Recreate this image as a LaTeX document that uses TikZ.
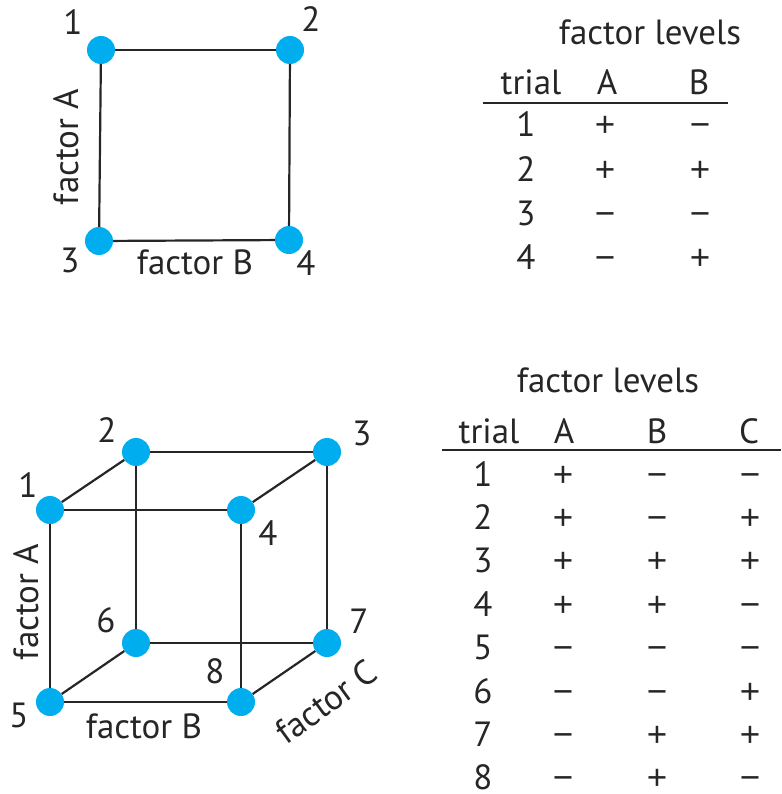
\documentclass[tikz,border=0pt]{standalone}
\usepackage{fontspec}
\setmainfont{PT Sans}
\newfontfamily\signfont{Liberation Sans}
\newcommand{\pl}{{\signfont\fontsize{35}{42}\selectfont +}}
\newcommand{\mi}{{\signfont\fontsize{35}{42}\selectfont −}}
\begin{document}
\begin{tikzpicture}[x=1pt,y=-1pt,
  dot/.style={circle,fill={rgb,255:red,0;green,174;blue,239},minimum size=28pt,inner sep=0pt},
  edge/.style={line width=2.2pt,black!85},
  lbl/.style={anchor=base,inner sep=0pt,font=\fontsize{35}{42}\selectfont,text=black!85},
  rule/.style={line width=2.2pt,black!85}]
\useasboundingbox (0,0) rectangle (781,794);
% ---- square ----
\node[dot] (s1) at (101,50) {};
\node[dot] (s2) at (290,50) {};
\node[dot] (s3) at (99,241) {};
\node[dot] (s4) at (289,240) {};
\draw[edge] (s1) -- (s2);
\draw[edge] (s1) -- (s3);
\draw[edge] (s2) -- (s4);
\draw[edge] (s3) -- (s4);
\node[lbl] (l1) at (73,35) {1};
\node[lbl] (l2) at (311,32) {2};
\node[lbl] (l3) at (70,272) {3};
\node[lbl] (l4) at (306,275) {4};
\node[lbl] (fB1) at (195,274) {factor B};
\node[lbl,rotate=90] (fA1) at (78,147) {factor A};
% ---- table 1 ----
\node[lbl] (t1title) at (650,45) {factor levels};
\node[lbl] (t1h0) at (531,95) {trial};
\node[lbl] (t1hA) at (607,95) {A};
\node[lbl] (t1hB) at (699,95) {B};
\coordinate (t1r0) at (483,103);
\coordinate (t1r1) at (728,103);
\draw[rule] (t1r0) -- (t1r1);
\foreach \i/\a/\b [count=\k] in {1/\pl/\mi,2/\pl/\pl,3/\mi/\mi,4/\mi/\pl}{
  \pgfmathsetmacro\yy{137+(\k-1)*44.3}
  \node[lbl] (t1n\k) at (526,\yy) {\i};
  \node[lbl] (t1a\k) at (605,\yy) {\a};
  \node[lbl] (t1b\k) at (700,\yy) {\b};
}
% ---- cube ----
\node[dot] (c1) at (50,510) {};
\node[dot] (c2) at (136,452) {};
\node[dot] (c3) at (327,452) {};
\node[dot] (c4) at (241,510) {};
\node[dot] (c5) at (50,702) {};
\node[dot] (c6) at (136,643) {};
\node[dot] (c7) at (327,643) {};
\node[dot] (c8) at (241,702) {};
\draw[edge] (c1) -- (c2);
\draw[edge] (c2) -- (c3);
\draw[edge] (c1) -- (c4);
\draw[edge] (c3) -- (c4);
\draw[edge] (c1) -- (c5);
\draw[edge] (c2) -- (c6);
\draw[edge] (c3) -- (c7);
\draw[edge] (c4) -- (c8);
\draw[edge] (c5) -- (c6);
\draw[edge] (c6) -- (c7);
\draw[edge] (c5) -- (c8);
\draw[edge] (c8) -- (c7);
\node[lbl] (m1) at (28,497) {1};
\node[lbl] (m2) at (107,442) {2};
\node[lbl] (m3) at (362,445) {3};
\node[lbl] (m4) at (268,545) {4};
\node[lbl] (m5) at (19,727) {5};
\node[lbl] (m6) at (106,632) {6};
\node[lbl] (m7) at (359,633) {7};
\node[lbl] (m8) at (215,683) {8};
\node[lbl] (fB2) at (144,738) {factor B};
\node[lbl,rotate=90] (fA2) at (38,602) {factor A};
\node[lbl,anchor=center,rotate=36] (fC2) at (326,702) {factor C};
% ---- table 2 ----
\node[lbl] (t2title) at (608,392) {factor levels};
\node[lbl] (t2h0) at (489,443) {trial};
\node[lbl] (t2hA) at (564,443) {A};
\node[lbl] (t2hB) at (657,443) {B};
\node[lbl] (t2hC) at (749,443) {C};
\coordinate (t2r0) at (442,450);
\coordinate (t2r1) at (781,450);
\draw[rule] (t2r0) -- (t2r1);
\foreach \i/\a/\b/\c [count=\k] in {1/\pl/\mi/\mi,2/\pl/\mi/\pl,3/\pl/\pl/\pl,4/\pl/\pl/\mi,5/\mi/\mi/\mi,6/\mi/\mi/\pl,7/\mi/\pl/\pl,8/\mi/\pl/\mi}{
  \pgfmathsetmacro\yy{486+(\k-1)*43.4}
  \node[lbl] (t2n\k) at (483,\yy) {\i};
  \node[lbl] (t2a\k) at (563,\yy) {\a};
  \node[lbl] (t2b\k) at (657,\yy) {\b};
  \node[lbl] (t2c\k) at (750,\yy) {\c};
}
\end{tikzpicture}
\end{document}
